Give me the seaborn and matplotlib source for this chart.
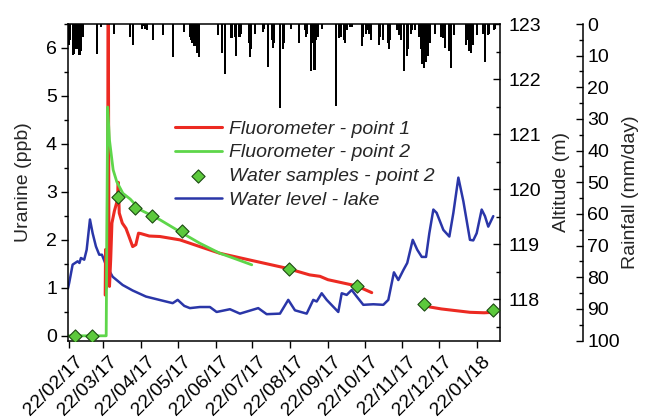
import matplotlib
matplotlib.use("Agg")

import matplotlib.dates as mdates
import matplotlib.pyplot as plt
import matplotlib.transforms as mtransforms
import pandas as pd
import seaborn as sns
from matplotlib.ticker import MultipleLocator


START_DATE = pd.Timestamp("2017-02-22")

# -------------------------------------------------
# Data (days after 22/02/17)
# -------------------------------------------------

rain_day = [
    0, 1, 3, 4, 5, 6, 7, 8, 9, 10,
    11, 23, 26, 37, 50, 52, 60, 61, 62, 64,
    69, 77, 85, 94, 99, 100, 101, 102, 103, 105,
    106, 122, 125, 128, 133, 136, 137, 139, 140, 141,
    147, 148, 149, 152, 159, 160, 163, 166, 167, 168,
    173, 175, 176, 182, 188, 193, 194, 195, 198, 200,
    201, 202, 204, 207, 219, 221, 222, 223, 225, 226,
    228, 230, 232, 240, 241, 243, 244, 246, 247, 254,
    255, 257, 261, 262, 263, 269, 270, 272, 274, 277,
    278, 280, 281, 283, 287, 288, 289, 291, 292, 294,
    296, 300, 305, 306, 308, 311, 313, 315, 325, 326,
    328, 329, 331, 334, 339, 341, 343, 344, 348, 349,
]
rain_mm = [
    6.6, 5.0, 9.8, 9.5, 7.0, 8.0, 6.0, 9.8, 9.8, 8.5,
    4.0, 9.5, 1.0, 3.0, 4.0, 6.6, 1.5, 0.5, 1.5, 2.0,
    5.0, 3.5, 10.3, 2.5, 4.0, 5.0, 6.0, 7.0, 7.0, 9.0,
    10.5, 3.5, 9.0, 15.8, 4.5, 4.0, 10.0, 4.0, 4.0, 3.0,
    6.0, 10.5, 8.0, 3.0, 2.5, 1.5, 13.5, 5.0, 7.6, 6.0,
    26.5, 8.0, 6.0, 1.5, 6.0, 2.0, 4.0, 3.0, 15.0, 6.0,
    14.5, 5.0, 4.0, 1.5, 26.0, 4.4, 3.0, 4.0, 5.0, 6.0,
    2.0, 1.0, 1.0, 7.0, 4.0, 3.0, 2.0, 3.0, 5.0, 6.5,
    4.0, 5.0, 6.0, 8.0, 5.0, 2.0, 3.5, 5.0, 15.0, 10.0,
    8.0, 3.0, 2.0, 2.0, 4.0, 8.0, 12.5, 14.0, 12.0, 10.0,
    6.0, 3.0, 4.0, 4.5, 7.5, 8.5, 14.0, 3.5, 6.5, 5.0,
    8.5, 9.0, 6.5, 3.5, 3.0, 12.0, 3.5, 3.0, 2.0, 1.5,
]

# Fluorometer - point 1 (two recording periods)
point1_day_a = [
    29.5, 29.8, 30.4, 31.2, 32.0, 32.6, 33.0, 34.0, 35.0, 37.0,
    39.5, 40.2, 41.0, 43.5, 46.5, 49.0, 52.0, 54.6, 56.8, 58.8,
    65.6, 74.3, 90.7, 107.0, 123.5, 148.0, 178.0, 197.0, 205.5, 212.0,
    235.5, 247.9,
]
point1_ppb_a = [
    0.85, 1.8, 1.0, 1.5, 7.0, 1.3, 1.03, 1.6, 2.35, 2.6,
    2.83, 3.2, 2.56, 2.35, 2.24, 2.07, 1.86, 1.9, 2.14, 2.13,
    2.08, 2.07, 2.0, 1.86, 1.72, 1.58, 1.41, 1.27, 1.24, 1.17,
    1.04, 0.90,
]
point1_day_b = [290.0, 295.7, 305.0, 315.0, 328.4, 340.0, 347.5]
point1_ppb_b = [0.65, 0.60, 0.56, 0.53, 0.49, 0.48, 0.49]

# Fluorometer - point 2
point2_day = [
    -0.5, 30.3, 31.5, 33.0, 36.0, 39.0, 44.0, 50.0, 58.0, 74.3,
    90.7, 107.0, 123.5, 134.5, 149.6,
]
point2_ppb = [
    0.0, 0.0, 4.77, 4.08, 3.46, 3.21, 2.97, 2.85, 2.63, 2.42,
    2.17, 1.93, 1.72, 1.62, 1.48,
]

# Water samples - point 2
sample_day = [4.7, 18.4, 40.2, 53.9, 67.5, 92.1, 179.8, 235.6, 290.7, 347.5]
sample_ppb = [0.0, 0.0, 2.89, 2.67, 2.50, 2.19, 1.40, 1.04, 0.66, 0.54]

# Water level - lake (m)
lake_day = [
    -1, 0, 2.8, 6.9, 8.4, 9.6, 12.3, 14.3, 17, 19.2,
    21.9, 24.6, 26.8, 30, 35.6, 43.8, 52, 62.9, 73.8, 84.8,
    88.9, 94.3, 98.9, 107.1, 115.3, 120.8, 131.7, 139.9, 154.9, 161.8,
    172.7, 179.5, 185, 194.6, 200, 202.8, 206.9, 211, 220.5, 223.3,
    227.4, 231.5, 235.6, 241, 249.2, 257.4, 261.5, 266.1, 269.7, 273.8,
    277, 281.5, 285.2, 288.9, 292.4, 295.1, 298.4, 301.1, 306.6, 311.5,
    314.8, 318.9, 323, 328.4, 331.1, 333.9, 338, 340.7, 343.4, 347.5,
]
lake_alt = [
    118.2, 118.3, 118.63, 118.69, 118.66, 118.75, 118.72, 118.9, 119.45, 119.2,
    118.96, 118.81, 118.81, 118.63, 118.41, 118.26, 118.16, 118.05, 117.99, 117.93,
    117.99, 117.88, 117.84, 117.86, 117.86, 117.77, 117.82, 117.74, 117.84, 117.73,
    117.74, 117.99, 117.80, 117.74, 117.99, 117.96, 118.11, 117.99, 117.77, 118.11,
    118.08, 118.17, 118.05, 117.9, 117.91, 117.9, 117.99, 118.49, 118.35, 118.53,
    118.66, 119.08, 118.9, 118.77, 118.77, 119.2, 119.63, 119.57, 119.26, 119.14,
    119.57, 120.21, 119.78, 119.08, 119.07, 119.2, 119.63, 119.51, 119.32, 119.51,
]


RED = "#ec2a22"
GREEN = "#5ed64a"
BLUE = "#2a36a8"
DIAMOND_FILL = "#5cc93c"
DIAMOND_EDGE = "#1c4a12"
FONT_SIZE = 14


def to_dates(days):
    return START_DATE + pd.to_timedelta(pd.Series(days, dtype=float), unit="D")


sns.set_theme(
    style="ticks",
    rc={
        "axes.edgecolor": "black",
        "xtick.color": "black",
        "ytick.color": "black",
        "axes.linewidth": 1.1,
    },
)
plt.rcParams["font.family"] = ["Liberation Sans", "DejaVu Sans"]

fig = plt.figure(figsize=(6.5, 4.19), dpi=100)
ax = fig.add_axes([0.1046, 0.1871, 0.6646, 0.7556])
ax2 = ax.twinx()
ax3 = ax.twinx()

ax3.set_zorder(1)
ax2.set_zorder(2)
ax.set_zorder(3)
for a in (ax, ax2, ax3):
    a.patch.set_visible(False)


# -------------------------------------------------
# Rainfall bars hanging from the top
# -------------------------------------------------

ax3.bar(
    to_dates(rain_day),
    rain_mm,
    width=1.7,
    color="black",
    linewidth=0,
)
ax3.set_ylim(100, 0)
ax3.spines["right"].set_position(("axes", 1.192))
for side in ("left", "top", "bottom"):
    ax3.spines[side].set_visible(False)
ax3.yaxis.set_major_locator(MultipleLocator(10))
ax3.yaxis.set_minor_locator(MultipleLocator(5))
ax3.tick_params(axis="y", which="major", direction="in", length=5, width=1,
                labelsize=FONT_SIZE, pad=3)
ax3.tick_params(axis="y", which="minor", direction="in", length=3, width=1)
ax3.set_ylabel("Rainfall (mm/day)", fontsize=FONT_SIZE)
ax3.yaxis.set_label_coords(1.282, 0.47)


# -------------------------------------------------
# Lake water level
# -------------------------------------------------

sns.lineplot(
    x=to_dates(lake_day),
    y=lake_alt,
    ax=ax2,
    color=BLUE,
    linewidth=1.8,
    label="Water level - lake",
)
ax2.set_ylim(117.25, 123)
for side in ("left", "top", "bottom"):
    ax2.spines[side].set_visible(False)
ax2.yaxis.set_major_locator(MultipleLocator(1))
ax2.yaxis.set_minor_locator(MultipleLocator(0.5))
ax2.tick_params(axis="y", which="major", direction="in", length=5, width=1,
                labelsize=FONT_SIZE, pad=6)
ax2.tick_params(axis="y", which="minor", direction="in", length=3, width=1)
ax2.set_ylabel("Altitude (m)", fontsize=FONT_SIZE)
ax2.yaxis.set_label_coords(1.123, 0.5)
if ax2.get_legend() is not None:
    ax2.get_legend().remove()


# -------------------------------------------------
# Uranine concentrations
# -------------------------------------------------

sns.lineplot(
    x=to_dates(point1_day_a),
    y=point1_ppb_a,
    ax=ax,
    color=RED,
    linewidth=2.2,
    label="Fluorometer - point 1",
)
sns.lineplot(
    x=to_dates(point1_day_b),
    y=point1_ppb_b,
    ax=ax,
    color=RED,
    linewidth=2.2,
)
sns.lineplot(
    x=to_dates(point2_day),
    y=point2_ppb,
    ax=ax,
    color=GREEN,
    linewidth=2.0,
    label="Fluorometer - point 2",
)
sns.scatterplot(
    x=to_dates(sample_day),
    y=sample_ppb,
    ax=ax,
    marker="D",
    s=45,
    color=DIAMOND_FILL,
    edgecolor=DIAMOND_EDGE,
    linewidth=0.8,
    label="Water samples - point 2",
    zorder=5,
)

ax.set_xlim(START_DATE - pd.Timedelta(days=1), START_DATE + pd.Timedelta(days=353))
ax.set_ylim(-0.1, 6.5)
ax.spines["right"].set_visible(False)
ax.yaxis.set_major_locator(MultipleLocator(1))
ax.yaxis.set_minor_locator(MultipleLocator(0.5))
ax.tick_params(axis="y", which="major", direction="out", length=5, width=1,
               labelsize=FONT_SIZE, pad=3)
ax.tick_params(axis="y", which="minor", direction="out", length=3, width=1)
ax.set_ylabel("Uranine (ppb)", fontsize=FONT_SIZE)
ax.yaxis.set_label_coords(-0.083, 0.5)

ax.xaxis.set_major_locator(mdates.MonthLocator(bymonthday=22))
ax.xaxis.set_major_formatter(mdates.DateFormatter("%d/%m/%y"))
ax.tick_params(axis="x", which="major", direction="out", length=5, width=1,
               labelsize=FONT_SIZE, pad=4)
ax.set_xlabel("")

# shift the rotated date labels so they end just right of each tick
label_shift = mtransforms.ScaledTranslation(11 / 100, -6 / 100, fig.dpi_scale_trans)
for label in ax.get_xticklabels():
    label.set_rotation(45)
    label.set_ha("right")
    label.set_va("center")
    label.set_rotation_mode("anchor")
    label.set_transform(label.get_transform() + label_shift)


# -------------------------------------------------
# Legend
# -------------------------------------------------

handles, labels = ax.get_legend_handles_labels()
lake_handles, lake_labels = ax2.get_legend_handles_labels()
handles += lake_handles
labels += lake_labels

ax.legend(
    handles,
    labels,
    loc="upper left",
    bbox_to_anchor=(0.248, 0.697),
    frameon=False,
    prop={"style": "italic", "size": FONT_SIZE},
    handlelength=2.4,
    handletextpad=0.35,
    labelspacing=0.32,
    borderpad=0,
    borderaxespad=0,
)

fig.savefig("out.png", dpi=100)
plt.close(fig)
